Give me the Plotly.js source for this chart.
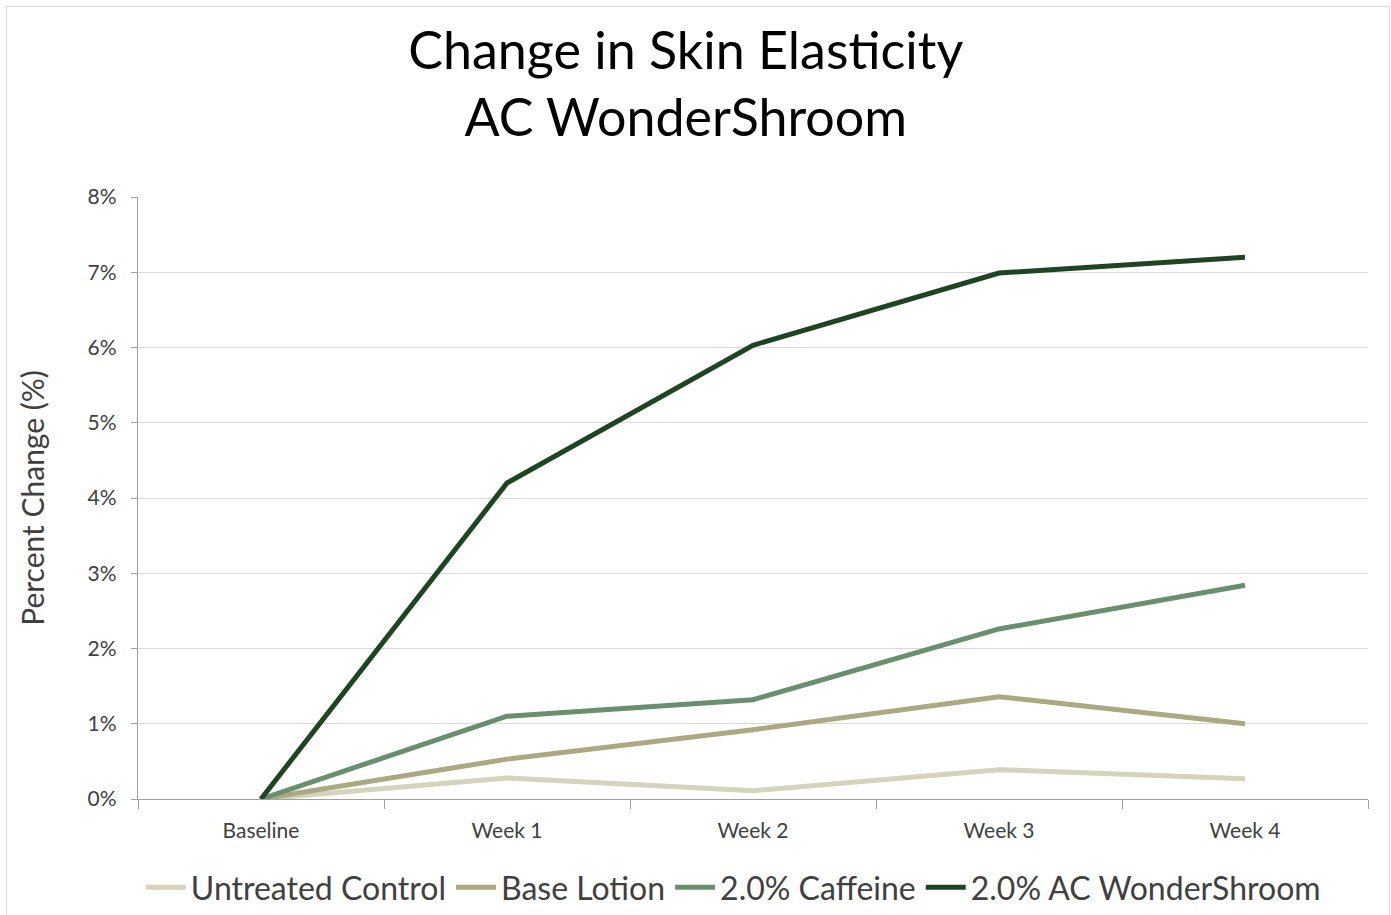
<!DOCTYPE html>
<html><head><meta charset="utf-8">
<script src="https://cdn.plot.ly/plotly-3.0.1.min.js"></script>
<style>
html,body{margin:0;padding:0;background:#fff;}
#wrap{position:relative;width:1391px;height:915px;}
#chart{position:absolute;left:0;top:0;width:1391px;height:915px;}
#frame{position:absolute;left:6px;top:6px;width:1382px;height:920px;border:1px solid #d9d9d9;pointer-events:none;}
</style></head>
<body>
<div id="wrap"><div id="chart"></div><div id="frame"></div></div>
<script>
const categories = ["Baseline","Week 1","Week 2","Week 3","Week 4"];
const seriesNames = ["Untreated Control","Base Lotion","2.0% Caffeine","2.0% AC WonderShroom"];
const untreated = [0, 0.28, 0.11, 0.39, 0.27];
const baseLotion = [0, 0.53, 0.92, 1.36, 1.00];
const caffeine = [0, 1.10, 1.32, 2.26, 2.84];
const wondershroom = [0, 4.20, 6.03, 6.99, 7.20];
const yTickVals = [0,1,2,3,4,5,6,7,8];
const yTickText = ["0%","1%","2%","3%","4%","5%","6%","7%","8%"];
const colors = ["#d4d3bc","#aaa982","#698f6d","#1e4421"];

const allValues = [untreated, baseLotion, caffeine, wondershroom];
const traces = allValues.map((v,i)=>({
  x: categories, y: v, type:"scatter", mode:"lines", name: seriesNames[i],
  line:{color: colors[i], width:5}, hoverinfo:"x+y"
}));
const font = "Lato, 'Open Sans', sans-serif";
const layout = {
  width:1391, height:915,
  margin:{l:138, r:23, t:197, b:116},
  paper_bgcolor:"rgba(0,0,0,0)", plot_bgcolor:"#fff",
  font:{family:font, color:"#404040"},
  title:{text:"Change in Skin Elasticity<br>AC WonderShroom", x:0.493, xanchor:"center", yref:"container", y:0.925, yanchor:"top",
    font:{family:font, size:52, color:"#000"}},
  xaxis:{type:"category", tickson:"boundaries", ticks:"outside", ticklen:9, tickcolor:"#a0a0a0",
    showline:true, linecolor:"#a0a0a0", linewidth:1.3, showgrid:false, ticklabelstandoff:12,
    tickfont:{size:21, color:"#404040"}, range:[-0.5,4.5]},
  yaxis:{range:[0,8], tickvals:yTickVals, ticktext:yTickText, ticks:"outside", ticklen:6, tickcolor:"#a0a0a0",
    showline:true, linecolor:"#a0a0a0", linewidth:1.3, gridcolor:"#d9d9d9", gridwidth:1, ticklabelstandoff:10,
    zeroline:false, tickfont:{size:21, color:"#404040"},
    title:{text:"Percent Change (%)", font:{size:30, color:"#404040"}, standoff:34}},
  legend:{orientation:"h", x:0.484, xanchor:"center", yref:"container", y:-0.014, yanchor:"bottom",
    font:{size:32, color:"#404040"}, itemwidth:40, tracegroupgap:0},
  showlegend:true
};
Plotly.newPlot("chart", traces, layout, {displayModeBar:false, staticPlot:true});
</script>
</body></html>
